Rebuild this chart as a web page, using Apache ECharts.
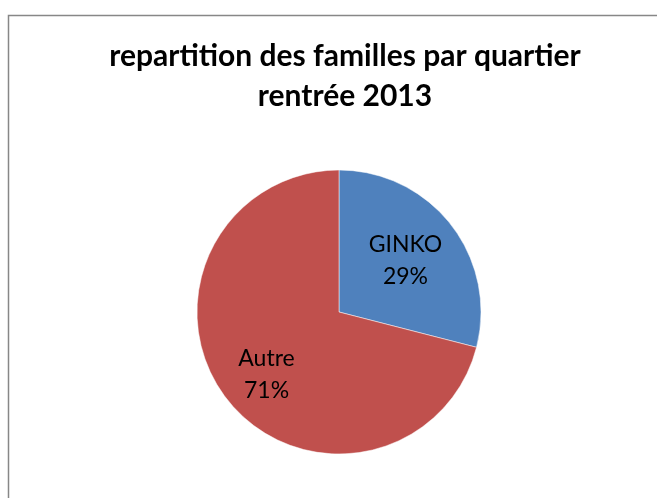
<!DOCTYPE html>
<html>
<head>
<meta charset="utf-8">
<script src="https://cdn.jsdelivr.net/npm/echarts@6/dist/echarts.min.js"></script>
<style>
  html, body { margin: 0; padding: 0; background: #fff; }
  #main { width: 657px; height: 498px; }
</style>
</head>
<body>
<div id="main"></div>
<script>
// données du graphique
var quartiers = ['GINKO', 'Autre'];
var valeurs = [29, 71];
var couleurs = ['#4F81BD', '#C0504D'];

// decalage des etiquettes (style excel)
var decalages = [[8, -6], [-14, 17]];

var chart = echarts.init(document.getElementById('main'), null, { renderer: 'canvas' });

var pieData = quartiers.map(function (q, i) {
  return { name: q, value: valeurs[i], itemStyle: { color: couleurs[i] } };
});

var option = {
  backgroundColor: '#ffffff',
  animation: false,
  title: {
    text: 'repartition des familles par quartier\nrentrée 2013',
    left: 340,
    textAlign: 'center',
    top: 31,
    textStyle: {
      fontFamily: 'Lato',
      fontWeight: 'bold',
      fontSize: 30,
      lineHeight: 40,
      color: '#000'
    }
  },
  graphic: [{
    type: 'rect',
    shape: { x: 8.5, y: 15.5, width: 700, height: 600 },
    style: { fill: null, stroke: '#878787', lineWidth: 1.5 },
    silent: true
  }],
  series: [{
    type: 'pie',
    center: [339, 312],
    radius: 142,
    startAngle: 90,
    clockwise: true,
    itemStyle: { borderColor: '#ffffff', borderWidth: 0.5 },
    label: {
      show: true,
      position: 'inside',
      formatter: '{b}\n{d}%',
      fontFamily: 'Lato',
      fontSize: 23,
      lineHeight: 32,
      color: '#000'
    },
    labelLine: { show: false },
    labelLayout: function (params) {
      var d = decalages[params.dataIndex];
      return { dx: d[0], dy: d[1] };
    },
    emphasis: { disabled: true },
    data: pieData
  }]
};

chart.setOption(option, true);
</script>
</body>
</html>
